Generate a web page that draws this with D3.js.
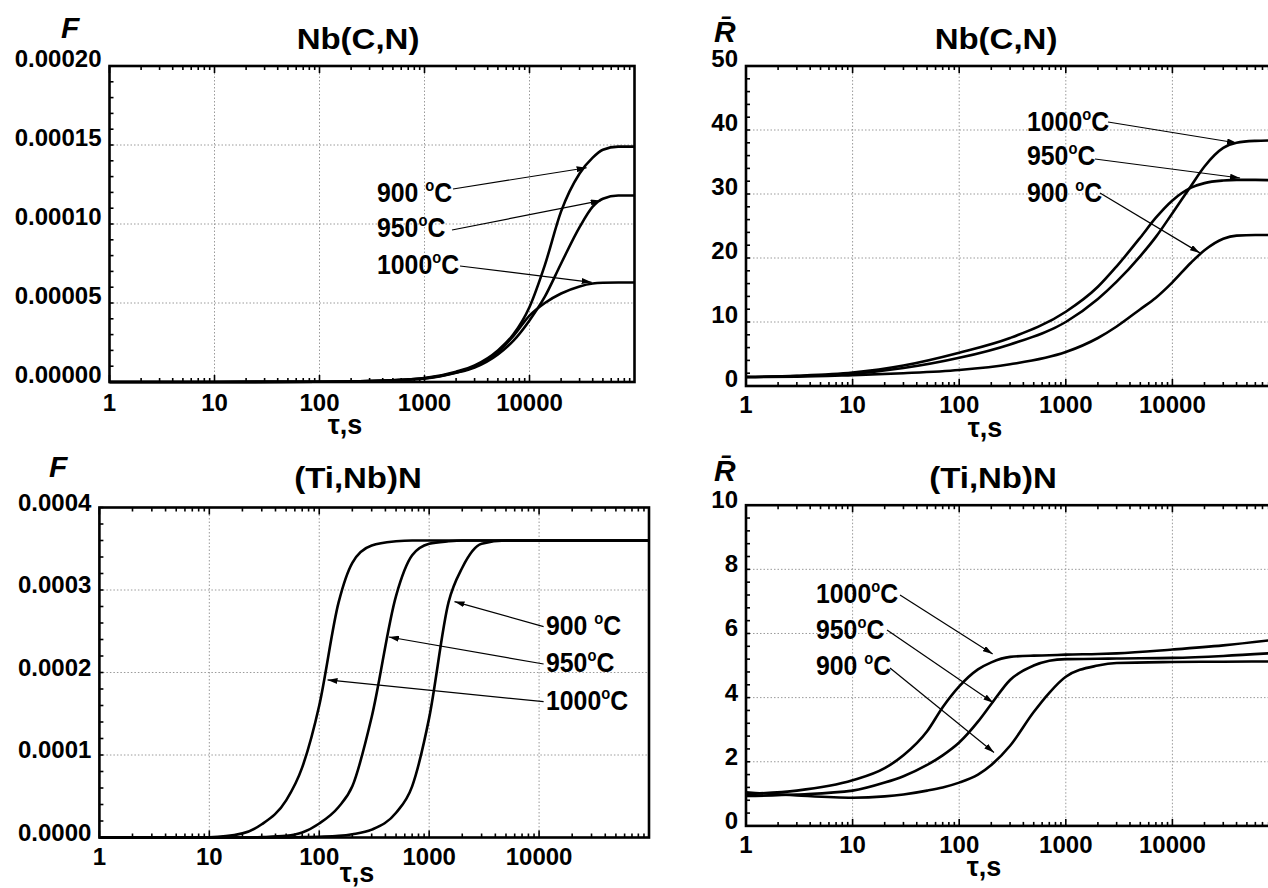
<!DOCTYPE html>
<html>
<head>
<meta charset="utf-8">
<script src="https://cdn.jsdelivr.net/npm/d3@7"></script>
<style>
body { margin: 0; background: #fff; }
svg text { font-family: "Liberation Sans", Arial, sans-serif; font-weight: bold; fill: #000; }
</style>
</head>
<body>
<svg id="chart" width="1268" height="888"></svg>
<script>
// ---- values ----
var xTickValues = [1, 10, 100, 1000, 10000];
var xTickLabels = ["1", "10", "100", "1000", "10000"];

// Nb(C,N): volume fraction F
var tauNbF  = [1, 10, 100, 300, 1000, 2000, 3000, 5000, 7000, 10000, 14000, 20000, 30000, 40000, 50000, 70000, 100000];
var nbF900  = [0, 0, 0.2e-6, 0.6e-6, 2.5e-6, 6.5e-6, 10.5e-6, 20e-6, 30e-6, 47.5e-6, 74e-6, 108e-6, 132e-6, 142e-6, 147e-6, 149e-6, 149e-6];
var nbF950  = [0, 0, 0.2e-6, 0.6e-6, 2.2e-6, 5.8e-6, 9.2e-6, 17.5e-6, 26e-6, 39e-6, 54e-6, 75e-6, 98e-6, 111e-6, 116e-6, 118e-6, 118e-6];
var nbF1000 = [0, 0, 0.2e-6, 0.6e-6, 2.3e-6, 6e-6, 9.8e-6, 19e-6, 29e-6, 42e-6, 50e-6, 56e-6, 60.5e-6, 62.3e-6, 62.8e-6, 63e-6, 63e-6];
var nbFTicks = [0, 0.00005, 0.0001, 0.00015, 0.0002];
var nbFTickLabels = ["0.00000", "0.00005", "0.00010", "0.00015", "0.00020"];

// Nb(C,N): mean radius R
var tauNbR  = [1, 3, 10, 30, 100, 300, 1000, 2000, 3000, 5000, 7000, 10000, 15000, 20000, 30000, 40000, 60000, 100000];
var nbR900  = [1.4, 1.45, 1.7, 2.0, 2.5, 3.4, 5.3, 7.5, 9.3, 12.0, 13.8, 16.2, 19.3, 21.2, 23.0, 23.5, 23.6, 23.6];
var nbR950  = [1.4, 1.6, 2.1, 3.2, 5.2, 7.5, 11.6, 15.5, 18.7, 23.2, 26.3, 29.0, 31.0, 31.7, 32.1, 32.2, 32.2, 32.1];
var nbR1000 = [1.4, 1.55, 1.9, 2.8, 4.4, 6.5, 10.0, 13.6, 16.3, 20.3, 23.3, 27.0, 31.3, 34.3, 37.2, 38.0, 38.3, 38.4];
var nbRTicks = [0, 10, 20, 30, 40, 50];

// (Ti,Nb)N: volume fraction F
var tauTiF  = [1, 10, 20, 30, 50, 70, 100, 150, 200, 300, 500, 700, 1000, 1500, 2000, 3000, 5000, 10000, 100000];
var tiF900  = [0, 0, 0, 0, 0, 0.5e-6, 1e-6, 2e-6, 4e-6, 9.5e-6, 30e-6, 62e-6, 145e-6, 285e-6, 327e-6, 356e-6, 360e-6, 360e-6, 360e-6];
var tiF950  = [0, 0, 0, 0.5e-6, 2e-6, 6e-6, 17e-6, 37e-6, 62e-6, 146e-6, 293e-6, 342e-6, 356e-6, 359e-6, 360e-6, 360e-6, 360e-6, 360e-6, 360e-6];
var tiF1000 = [0, 0.3e-6, 5e-6, 16e-6, 45e-6, 85e-6, 160e-6, 285e-6, 333e-6, 354e-6, 359e-6, 360e-6, 360e-6, 360e-6, 360e-6, 360e-6, 360e-6, 360e-6, 360e-6];
var tiFTicks = [0, 0.0001, 0.0002, 0.0003, 0.0004];
var tiFTickLabels = ["0.0000", "0.0001", "0.0002", "0.0003", "0.0004"];

// (Ti,Nb)N: mean radius R
var tauTiR  = [1, 3, 10, 20, 30, 50, 70, 100, 150, 200, 300, 500, 700, 1000, 2000, 3000, 10000, 30000, 100000];
var tiR900  = [1.05, 0.95, 0.88, 0.92, 0.98, 1.1, 1.2, 1.35, 1.6, 1.9, 2.5, 3.55, 4.15, 4.65, 5.0, 5.08, 5.11, 5.12, 5.13];
var tiR950  = [0.93, 0.98, 1.1, 1.35, 1.55, 1.9, 2.2, 2.6, 3.25, 3.8, 4.55, 5.0, 5.15, 5.2, 5.21, 5.22, 5.24, 5.3, 5.4];
var tiR1000 = [1.0, 1.1, 1.42, 1.8, 2.2, 2.95, 3.7, 4.35, 4.88, 5.1, 5.27, 5.31, 5.32, 5.34, 5.36, 5.38, 5.5, 5.63, 5.82];
var tiRTicks = [0, 2, 4, 6, 8, 10];

function zip(t, v) { return t.map(function(d, i) { return [d, v[i]]; }); }

var svg = d3.select("#chart");

svg.append("defs").append("marker")
  .attr("id", "head")
  .attr("viewBox", "0 0 10 6")
  .attr("refX", 10).attr("refY", 3)
  .attr("markerWidth", 10).attr("markerHeight", 6)
  .attr("markerUnits", "userSpaceOnUse")
  .attr("orient", "auto")
  .append("path").attr("d", "M0,0L10,3L0,6Z").attr("fill", "#000");

// text helper, sx stretches horizontally like the source raster
function txt(g, x, y, s, size, anchor, sx) {
  return g.append("text")
    .attr("transform", "translate(" + x + "," + y + ") scale(" + (sx || 1) + ",1)")
    .attr("text-anchor", anchor || "start")
    .style("font-size", size + "px")
    .text(s);
}

function tempLabel(g, x, y, num) {
  var t = g.append("text")
    .attr("transform", "translate(" + x + "," + y + ") scale(0.92,1)")
    .style("font-size", "27px");
  t.append("tspan").text(num);
  t.append("tspan").attr("dy", -11).style("font-size", "16px").text("o");
  t.append("tspan").attr("dy", 11).text("C");
}

function drawPanel(p) {
  var g = svg.append("g");
  var x = d3.scaleLog().domain([1, 100000]).range([p.left, p.right]);
  var y = d3.scaleLinear().domain([0, p.yMax]).range([p.bottom, p.top]);

  // dotted grid
  g.selectAll(".gx").data(xTickValues.slice(1)).enter().append("line")
    .attr("x1", function(d) { return x(d); }).attr("x2", function(d) { return x(d); })
    .attr("y1", p.top).attr("y2", p.bottom)
    .attr("stroke", "#9a9a9a").attr("stroke-width", 1).attr("stroke-dasharray", "1.5,2");
  g.selectAll(".gy").data(p.yTicks.slice(1, -1)).enter().append("line")
    .attr("y1", function(d) { return y(d); }).attr("y2", function(d) { return y(d); })
    .attr("x1", p.left).attr("x2", p.right)
    .attr("stroke", "#9a9a9a").attr("stroke-width", 1).attr("stroke-dasharray", "1.5,2");

  var line = d3.line()
    .x(function(d) { return x(d[0]); })
    .y(function(d) { return y(d[1]); })
    .curve(d3.curveMonotoneX);

  p.series.forEach(function(s) {
    g.append("path").datum(zip(p.tau, s))
      .attr("fill", "none").attr("stroke", "#000").attr("stroke-width", 2.6)
      .attr("stroke-linejoin", "round").attr("d", line);
  });

  // frame
  g.append("rect").attr("x", p.left).attr("y", p.top)
    .attr("width", p.right - p.left).attr("height", p.bottom - p.top)
    .attr("fill", "none").attr("stroke", "#000").attr("stroke-width", 2.6);

  // inward ticks: bottom and top (log minors), left (linear minors)
  var minors = [];
  for (var e = 1; e < 100000; e *= 10) for (var k = 2; k <= 9; k++) minors.push(e * k);
  [p.bottom, p.top].forEach(function(yy) {
    var dir = yy === p.bottom ? -1 : 1;
    g.selectAll(null).data(minors).enter().append("line")
      .attr("x1", function(d) { return x(d); }).attr("x2", function(d) { return x(d); })
      .attr("y1", yy).attr("y2", yy + dir * 4)
      .attr("stroke", "#000").attr("stroke-width", 1.6);
    g.selectAll(null).data(xTickValues).enter().append("line")
      .attr("x1", function(d) { return x(d); }).attr("x2", function(d) { return x(d); })
      .attr("y1", yy).attr("y2", yy + dir * 7)
      .attr("stroke", "#000").attr("stroke-width", 1.6);
  });
  g.selectAll(null).data(d3.range(0, p.yMax * 1.0001, p.yMinor)).enter().append("line")
    .attr("x1", p.left).attr("x2", p.left + 4)
    .attr("y1", function(d) { return y(d); }).attr("y2", function(d) { return y(d); })
    .attr("stroke", "#000").attr("stroke-width", 1.6);

  // tick labels
  xTickValues.forEach(function(d, i) {
    txt(g, x(d), p.bottom + p.xLabDy, xTickLabels[i], 24, "middle", 1);
  });
  p.yTicks.forEach(function(d, i) {
    txt(g, p.left - 8, y(d) + p.yLabDy, p.yTickLabels[i], 24, "end", 1);
  });

  // titles
  txt(g, p.titleX, p.titleY, p.title, 30, "middle", 1.1);
  txt(g, p.letterX, p.letterY, p.letter, 30, "start", 1).style("font-style", "italic");
  txt(g, p.tauX, p.tauY, "\u03c4,s", 27, "middle", 1);

  // temperature labels with arrows pointing at the curves
  p.notes.forEach(function(n) {
    tempLabel(g, n.tx, n.ty, n.label);
    g.append("line")
      .attr("x1", n.ax).attr("y1", n.ay)
      .attr("x2", x(n.tip[0])).attr("y2", y(n.tip[1]))
      .attr("stroke", "#000").attr("stroke-width", 1.2)
      .attr("marker-end", "url(#head)");
  });
}

drawPanel({
  left: 109.5, right: 634.5, top: 66, bottom: 382,
  yMax: 0.0002, yTicks: nbFTicks, yTickLabels: nbFTickLabels, yMinor: 0.00001,
  tau: tauNbF, series: [nbF900, nbF950, nbF1000],
  xLabDy: 29, yLabDy: 1,
  title: "Nb(C,N)", titleX: 358, titleY: 49,
  letter: "F", letterX: 61, letterY: 38,
  tauX: 345, tauY: 434,
  notes: [
    { label: "900 ", tx: 377, ty: 202, ax: 453, ay: 189, tip: [35000, 0.0001356] },
    { label: "950", tx: 377, ty: 237, ax: 452, ay: 230, tip: [47600, 0.0001148] },
    { label: "1000", tx: 377, ty: 274, ax: 460, ay: 266, tip: [39100, 0.0000631] }
  ]
});

drawPanel({
  left: 746, right: 1279, top: 66, bottom: 386,
  yMax: 50, yTicks: nbRTicks, yTickLabels: nbRTicks.map(String), yMinor: 2,
  tau: tauNbR, series: [nbR900, nbR950, nbR1000],
  xLabDy: 27, yLabDy: 1,
  title: "Nb(C,N)", titleX: 996, titleY: 49,
  letter: "R\u0304", letterX: 714, letterY: 42,
  tauX: 985, tauY: 437,
  notes: [
    { label: "1000", tx: 1027, ty: 131, ax: 1108, ay: 122, tip: [40400, 37.97] },
    { label: "950", tx: 1027, ty: 165, ax: 1095, ay: 159, tip: [43100, 32.5] },
    { label: "900 ", tx: 1027, ty: 202, ax: 1100, ay: 193, tip: [18100, 20.8] }
  ]
});

drawPanel({
  left: 99.4, right: 649, top: 507.5, bottom: 837.5,
  yMax: 0.0004, yTicks: tiFTicks, yTickLabels: tiFTickLabels, yMinor: 0.00002,
  tau: tauTiF, series: [tiF900, tiF950, tiF1000],
  xLabDy: 27.5, yLabDy: 3,
  title: "(Ti,Nb)N", titleX: 358, titleY: 488,
  letter: "F", letterX: 49, letterY: 477,
  tauX: 357, tauY: 882,
  notes: [
    { label: "900 ", tx: 546, ty: 635, ax: 543.6, ay: 626.7, tip: [1700, 0.000286] },
    { label: "950", tx: 546, ty: 672, ax: 543.6, ay: 664, tip: [430, 0.000243] },
    { label: "1000", tx: 546, ty: 710, ax: 543.6, ay: 701.7, tip: [119, 0.000191] }
  ]
});

drawPanel({
  left: 746, right: 1279, top: 505.2, bottom: 825.9,
  yMax: 10, yTicks: tiRTicks, yTickLabels: tiRTicks.map(String), yMinor: 0.4,
  tau: tauTiR, series: [tiR900, tiR950, tiR1000],
  xLabDy: 27, yLabDy: 3,
  title: "(Ti,Nb)N", titleX: 993, titleY: 488,
  letter: "R\u0304", letterX: 714, letterY: 481,
  tauX: 984, tauY: 876,
  notes: [
    { label: "1000", tx: 816, ty: 603, ax: 900, ay: 595, tip: [206, 5.36] },
    { label: "950", tx: 816, ty: 639, ax: 887, ay: 630, tip: [209, 3.84] },
    { label: "900 ", tx: 816, ty: 675, ax: 890, ay: 668, tip: [212, 2.29] }
  ]
});
</script>
</body>
</html>
